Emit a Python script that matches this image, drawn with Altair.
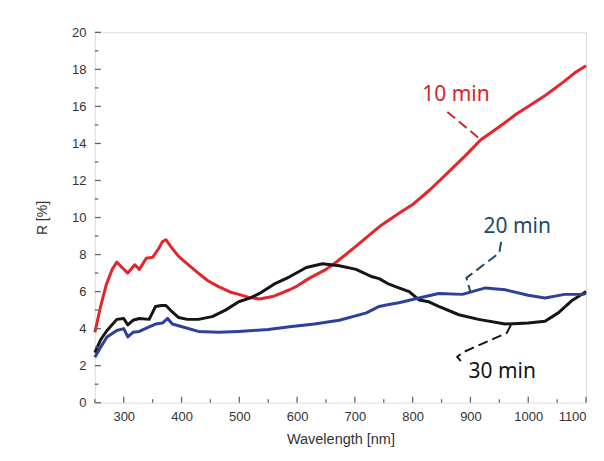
import altair as alt
import pandas as pd

# ---- data ----
wl_10 = [250, 260, 270, 280, 288, 297, 307, 319, 327, 339, 350, 360, 367, 373, 381, 395, 410, 429, 445, 464, 487, 499, 515, 535, 560, 587, 600, 620, 650, 668, 700, 742, 775, 800, 830, 860, 890, 918, 950, 980, 1000, 1030, 1060, 1080, 1100]
r_10 = [3.8, 5.2, 6.4, 7.2, 7.6, 7.3, 7.0, 7.45, 7.2, 7.8, 7.85, 8.3, 8.7, 8.8, 8.45, 7.9, 7.5, 7.0, 6.6, 6.27, 5.95, 5.85, 5.7, 5.6, 5.75, 6.1, 6.3, 6.7, 7.2, 7.6, 8.4, 9.5, 10.2, 10.7, 11.5, 12.4, 13.3, 14.2, 14.9, 15.6, 16.0, 16.6, 17.3, 17.8, 18.2]

wl_30 = [250, 260, 271, 288, 300, 307, 316, 327, 344, 355, 365, 373, 384, 395, 410, 429, 453, 476, 499, 518, 535, 560, 587, 616, 644, 673, 702, 730, 742, 759, 776, 794, 811, 828, 845, 880, 914, 960, 1000, 1029, 1052, 1075, 1095, 1100]
r_30 = [2.7, 3.4, 3.9, 4.5, 4.55, 4.2, 4.45, 4.55, 4.5, 5.2, 5.25, 5.25, 4.9, 4.6, 4.5, 4.5, 4.65, 5.0, 5.45, 5.65, 5.9, 6.4, 6.8, 7.3, 7.5, 7.4, 7.2, 6.8, 6.7, 6.4, 6.2, 6.0, 5.55, 5.45, 5.2, 4.75, 4.5, 4.25, 4.3, 4.4, 4.85, 5.5, 5.9, 6.0]

wl_20 = [250, 260, 271, 288, 300, 307, 316, 327, 344, 355, 367, 376, 384, 407, 429, 464, 499, 550, 587, 630, 673, 720, 742, 759, 776, 811, 845, 886, 926, 960, 1000, 1029, 1063, 1095, 1100]
r_20 = [2.45, 3.0, 3.55, 3.9, 4.0, 3.55, 3.8, 3.85, 4.1, 4.25, 4.3, 4.55, 4.25, 4.05, 3.85, 3.8, 3.85, 3.95, 4.1, 4.25, 4.45, 4.85, 5.2, 5.3, 5.4, 5.65, 5.9, 5.85, 6.2, 6.1, 5.8, 5.65, 5.85, 5.85, 5.9]

series_names = ["10 min", "30 min", "20 min"]
series_colors = ["#e3262b", "#151515", "#2f3f9c"]

x_major = [300, 400, 500, 600, 700, 800, 900, 1000, 1100]
x_minor = [250, 350, 450, 550, 650, 750, 850, 950, 1050]
y_major = [0, 2, 4, 6, 8, 10, 12, 14, 16, 18, 20]
y_minor = [1, 3, 5, 7, 9, 11, 13, 15, 17, 19]

label_text = ["10 min", "20 min", "30 min"]
label_x = [875, 981, 955]
label_y = [16.6, 9.5, 1.67]
label_color = ["#d8232a", "#1d4a6b", "#151515"]

leader_group = ["10", "10", "20", "20", "20", "20", "30", "30", "30", "30", "30"]
leader_x = [860, 918, 953, 950, 893, 900, 970, 963, 889, 877, 889]
leader_y = [15.7, 14.2, 8.68, 8.09, 6.74, 5.98, 4.2, 3.77, 2.75, 2.48, 2.05]

# ---- build tables ----
rows = []
for name, wl, r in zip(series_names, [wl_10, wl_30, wl_20], [r_10, r_30, r_20]):
    for i, (a, b) in enumerate(zip(wl, r)):
        rows.append({"series": name, "wl": a, "R": b, "order": i})
df = pd.DataFrame(rows)

xs = alt.Scale(domain=[250, 1100], nice=False, zero=False)
ys = alt.Scale(domain=[0, 20], nice=False)

xaxis = alt.Axis(values=x_major, format="d", title="Wavelength [nm]", ticks=False, domain=False,
                 grid=False, labelPadding=8, titlePadding=9, labelFontSize=13,
                 titleFontSize=14.5, labelColor="#333", titleColor="#333", labelOverlap=False,
                 titleFontWeight="normal", labelFont="Liberation Sans", titleFont="Liberation Sans")
yaxis = alt.Axis(values=y_major, format="d", title="R [%]", ticks=False, domain=False,
                 grid=False, labelPadding=9, titlePadding=22, labelFontSize=13,
                 titleFontSize=14, labelColor="#333", titleColor="#333", labelOverlap=False,
                 titleFontWeight="normal", labelFont="Liberation Sans", titleFont="Liberation Sans")

lines = alt.Chart(df).mark_line(strokeWidth=3, strokeJoin="round").encode(
    x=alt.X("wl:Q", scale=xs, axis=xaxis),
    y=alt.Y("R:Q", scale=ys, axis=yaxis),
    color=alt.Color("series:N", scale=alt.Scale(domain=series_names, range=series_colors), legend=None),
    order="order:Q",
)

H = 371
tick_rows = [{"v": v, "len": 6} for v in x_major] + [{"v": v, "len": 3.5} for v in x_minor]
xt = pd.DataFrame(tick_rows)
xt["y0"] = H
xt["y1"] = H - xt["len"]
xticks = alt.Chart(xt).mark_rule(color="#666", strokeWidth=1.3).encode(
    x=alt.X("v:Q", scale=xs, axis=xaxis), y=alt.Y("y0:Q", scale=None), y2="y1:Q")

yt = pd.DataFrame([{"v": v, "len": 6} for v in y_major] + [{"v": v, "len": 3.5} for v in y_minor])
yticks = alt.Chart(yt).mark_rule(color="#666", strokeWidth=1.3).encode(
    y=alt.Y("v:Q", scale=ys, axis=yaxis), x=alt.X("x0:Q", scale=None), x2="x1:Q"
).transform_calculate(x0="0", x1="datum.len")

lab = pd.DataFrame({"t": label_text, "x": label_x, "y": label_y, "c": label_color})
labels = alt.Chart(lab).mark_text(fontSize=21, font="Noto Sans", align="center", baseline="middle").encode(
    x=alt.X("x:Q", scale=xs, axis=xaxis), y=alt.Y("y:Q", scale=ys, axis=yaxis), text="t:N",
    color=alt.Color("c:N", scale=None))

ld = pd.DataFrame({"g": leader_group, "x": leader_x, "y": leader_y})
ld["i"] = range(len(ld))
leaders = alt.Chart(ld).mark_line(strokeWidth=2, strokeDash=[10, 5], strokeJoin="round",
                                  interpolate="linear").encode(
    x=alt.X("x:Q", scale=xs, axis=xaxis), y=alt.Y("y:Q", scale=ys, axis=yaxis), detail="g:N", order="i:Q",
    color=alt.Color("g:N", scale=alt.Scale(domain=["10", "20", "30"], range=label_color), legend=None))

chart = alt.layer(lines, leaders, labels, xticks, yticks).resolve_scale(color="independent").properties(
    width=492, height=H,
    autosize=alt.AutoSizeParams(type="none"),
    padding={"left": 87, "top": 24, "right": 10, "bottom": 50},
).configure_view(stroke="#777", strokeWidth=1.6).configure(background="white")

chart.save("out.html", embed_options={"renderer": "svg", "actions": False})
